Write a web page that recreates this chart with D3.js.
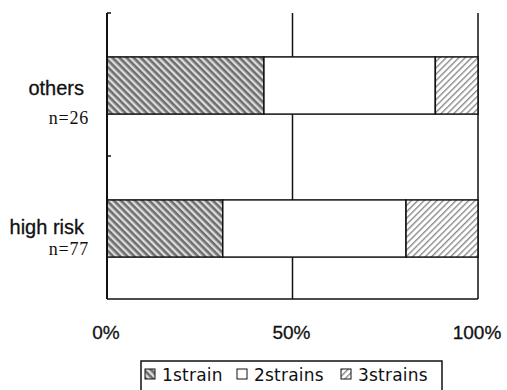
<!DOCTYPE html>
<html>
<head>
<meta charset="utf-8">
<script src="https://cdn.jsdelivr.net/npm/d3@7"></script>
<style>
  body { margin: 0; background: #fff; }
  svg { display: block; }
</style>
</head>
<body>
<div id="chart"></div>
<script>
// categories (top to bottom) and their sample sizes
const categories = ["others", "high risk"];
const sampleLabels = ["n=26", "n=77"];
// percentage of each group (1, 2, 3 strains)
const strains = ["1strain", "2strains", "3strains"];
const oneStrain = [42.3, 31.2];
const twoStrains = [46.2, 49.4];
const threeStrains = [11.5, 19.4];
const tickValues = [0, 50, 100];

const W = 507, H = 390;
const margin = { top: 13, right: 29, bottom: 91, left: 107 };

const svg = d3.select("#chart").append("svg")
  .attr("width", W).attr("height", H);

// hatch patterns
const defs = svg.append("defs");
const p1 = defs.append("pattern")
  .attr("id", "hatch1").attr("patternUnits", "userSpaceOnUse")
  .attr("width", 5).attr("height", 5)
  .attr("patternTransform", "rotate(45)");
p1.append("rect").attr("width", 5).attr("height", 5).attr("fill", "#dcdcdc");
p1.append("rect").attr("width", 5).attr("height", 2.6).attr("fill", "#6e6e6e");

const p3 = defs.append("pattern")
  .attr("id", "hatch3").attr("patternUnits", "userSpaceOnUse")
  .attr("width", 4.5).attr("height", 4.5)
  .attr("patternTransform", "rotate(-45)");
p3.append("rect").attr("width", 4.5).attr("height", 4.5).attr("fill", "#fff");
p3.append("rect").attr("width", 4.5).attr("height", 1.4).attr("fill", "#8c8c8c");

const fills = ["url(#hatch1)", "#fff", "url(#hatch3)"];

const x = d3.scaleLinear().domain([0, 100]).range([margin.left, W - margin.right]);
const y = d3.scaleBand().domain(categories).range([margin.top, H - margin.bottom]).padding(0);
const barH = y.bandwidth() * 0.4;

// vertical grid lines at 50% / 100%
svg.append("g").selectAll("line")
  .data([50, 100]).join("line")
  .attr("x1", d => x(d)).attr("x2", d => x(d))
  .attr("y1", margin.top).attr("y2", H - margin.bottom)
  .attr("stroke", "#111").attr("stroke-width", 1.5);

// stacked bars
const rows = categories.map((c, i) => ({ cat: c, vals: [oneStrain[i], twoStrains[i], threeStrains[i]] }));
rows.forEach(r => {
  let acc = 0;
  r.segs = r.vals.map((v, k) => { const s = { x0: acc, x1: acc + v, k }; acc += v; return s; });
});

svg.append("g").selectAll("g")
  .data(rows).join("g")
  .selectAll("rect")
  .data(d => d.segs.map(s => ({ ...s, cat: d.cat })))
  .join("rect")
  .attr("x", d => x(d.x0))
  .attr("width", d => x(d.x1) - x(d.x0))
  .attr("y", d => y(d.cat) + (y.bandwidth() - barH) / 2 + 1)
  .attr("height", barH)
  .attr("fill", d => fills[d.k])
  .attr("stroke", "#111").attr("stroke-width", 1.5);

// left axis with ticks at band boundaries
const yl = svg.append("g");
yl.append("line")
  .attr("x1", x(0)).attr("x2", x(0))
  .attr("y1", margin.top).attr("y2", H - margin.bottom)
  .attr("stroke", "#111").attr("stroke-width", 2);
yl.selectAll("line.tick")
  .data(categories).join("line").attr("class", "tick")
  .attr("x1", x(0)).attr("x2", x(0) + 4)
  .attr("y1", d => y(d)).attr("y2", d => y(d))
  .attr("stroke", "#111").attr("stroke-width", 1.5);

// bottom line
svg.append("line")
  .attr("x1", x(0)).attr("x2", x(100))
  .attr("y1", H - margin.bottom).attr("y2", H - margin.bottom)
  .attr("stroke", "#111").attr("stroke-width", 1.5);

// category labels (offsets from band centre differ a bit per row in the original)
const nameDy = [10.5, 6.5], nDy = [39.5, 27];
const lab = svg.append("g").selectAll("g").data(categories).join("g")
  .attr("transform", d => `translate(0,${y(d) + y.bandwidth() / 2})`);
lab.append("text")
  .attr("text-anchor", "end").attr("x", 84).attr("y", (d, i) => nameDy[i])
  .attr("font-family", "'Liberation Sans', Arial, sans-serif").attr("font-size", 20)
  .attr("fill", "#111").attr("stroke", "#111").attr("stroke-width", 0.3)
  .text(d => d);
lab.append("text")
  .attr("text-anchor", "end").attr("x", 89).attr("y", (d, i) => nDy[i])
  .attr("font-family", "'Liberation Serif', serif").attr("font-size", 18)
  .attr("letter-spacing", 0.8)
  .attr("fill", "#111")
  .text((d, i) => sampleLabels[i]);

// x tick labels
svg.append("g").selectAll("text")
  .data(tickValues).join("text")
  .attr("x", d => x(d) - 1).attr("y", 339)
  .attr("text-anchor", "middle")
  .attr("font-family", "'Liberation Sans', Arial, sans-serif").attr("font-size", 19)
  .attr("fill", "#111").attr("stroke", "#111").attr("stroke-width", 0.3)
  .text(d => d + "%");

// legend
const lg = svg.append("g");
lg.append("rect")
  .attr("x", 141).attr("y", 361).attr("width", 301).attr("height", 40)
  .attr("fill", "#fff").attr("stroke", "#111").attr("stroke-width", 1.5);
const legX = [145, 237, 341];
const items = lg.selectAll("g").data(strains).join("g")
  .attr("transform", (d, i) => `translate(${legX[i]},369)`);
items.append("rect")
  .attr("width", 10).attr("height", 10)
  .attr("fill", (d, i) => fills[i])
  .attr("stroke", "#111").attr("stroke-width", 1);
items.append("text")
  .attr("x", 17).attr("y", 11.5)
  .attr("font-family", "'DejaVu Sans', sans-serif").attr("font-size", 17)
  .attr("letter-spacing", 0.2)
  .attr("fill", "#111")
  .text(d => d);
</script>
</body>
</html>
